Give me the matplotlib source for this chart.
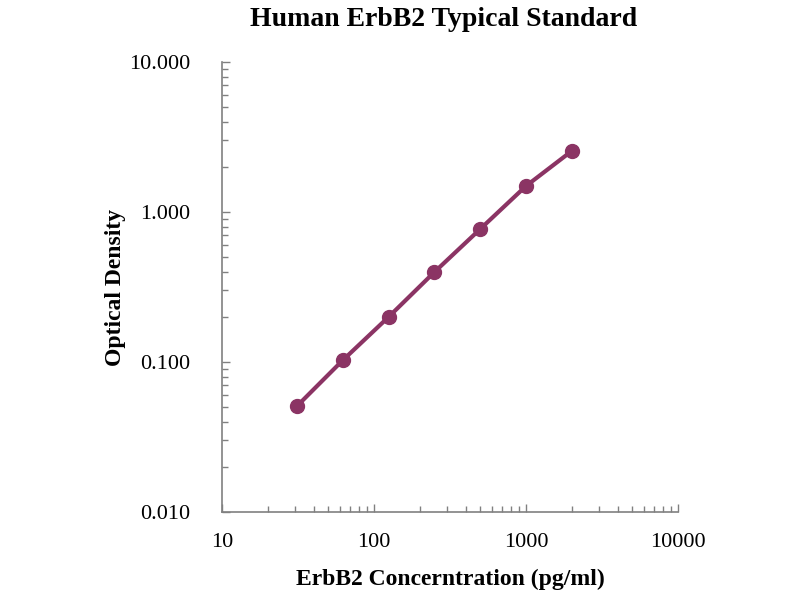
import matplotlib
matplotlib.use("Agg")
import matplotlib.pyplot as plt
from matplotlib.ticker import FixedLocator, LogLocator, NullFormatter

# standard curve data
conc = [31.25, 62.5, 125, 250, 500, 1000, 2000]
od = [0.051, 0.103, 0.200, 0.398, 0.77, 1.49, 2.55]

x_ticks = [10, 100, 1000, 10000]
x_labels = ["10", "100", "1000", "10000"]
y_ticks = [0.01, 0.1, 1, 10]
y_labels = ["0.010", "0.100", "1.000", "10.000"]

serif = "Liberation Serif"
purple = "#8B3464"
axis_grey = "#808080"

fig = plt.figure(figsize=(8, 6), dpi=100)
ax = fig.add_axes([0.2775, 0.1467, 0.57, 0.75])

ax.plot(conc, od, color=purple, linewidth=3, marker="o", markersize=10,
        markerfacecolor=purple, markeredgecolor=purple)

ax.set_xscale("log")
ax.set_yscale("log")
ax.set_xlim(10, 10000)
ax.set_ylim(0.01, 10)

ax.xaxis.set_major_locator(FixedLocator(x_ticks))
ax.set_xticklabels(x_labels)
ax.yaxis.set_major_locator(FixedLocator(y_ticks))
ax.set_yticklabels(y_labels)
ax.xaxis.set_minor_locator(LogLocator(base=10, subs=range(2, 10)))
ax.yaxis.set_minor_locator(LogLocator(base=10, subs=range(2, 10)))
ax.xaxis.set_minor_formatter(NullFormatter())
ax.yaxis.set_minor_formatter(NullFormatter())

for side in ["top", "right"]:
    ax.spines[side].set_visible(False)
for side in ["left", "bottom"]:
    ax.spines[side].set_color(axis_grey)
    ax.spines[side].set_linewidth(1.2)

ax.tick_params(which="both", direction="in", color=axis_grey)
ax.tick_params(which="major", length=6, width=1)
ax.tick_params(which="minor", length=4, width=1)
ax.tick_params(axis="x", which="major", pad=15)
ax.tick_params(axis="y", which="major", pad=23)

for lbl in ax.get_xticklabels() + ax.get_yticklabels():
    lbl.set_fontfamily(serif)
    lbl.set_fontsize(16)

ax.set_xlabel("ErbB2 Concerntration (pg/ml)", fontfamily=serif,
              fontweight="bold", fontsize=17, labelpad=12)
ax.set_ylabel("Optical Density", fontfamily=serif, fontweight="bold",
              fontsize=17, labelpad=2)
fig.text(0.554, 0.968, "Human ErbB2 Typical Standard", fontfamily=serif,
         fontweight="bold", fontsize=20, ha="center", va="center")

fig.savefig("out.png", dpi=100)
